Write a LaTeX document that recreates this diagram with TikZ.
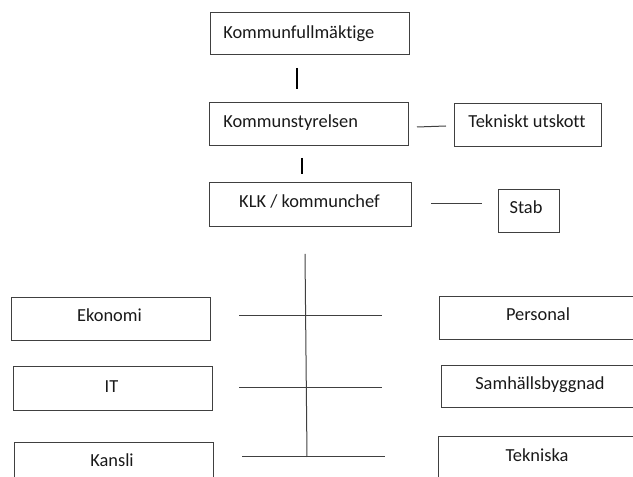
\documentclass[tikz,border=0pt]{standalone}
\usepackage{fontspec}
\setmainfont{Carlito}[Ligatures={NoCommon}]
\begin{document}
\begin{tikzpicture}[x=0.75pt,y=-0.75pt,
  box/.style={draw=black!75, line width=0.75pt, rectangle, inner sep=0pt},
  txt/.style={inner sep=0pt, font=\fontsize{13.8}{16}\selectfont, anchor=base, text=black!90},
  ln/.style={draw=black!75, line width=0.75pt},
  tick/.style={draw=black, line width=1.1pt}]
\useasboundingbox (0,0) rectangle (633,477);
\clip (0,0) rectangle (633,477);
% boxes
\node[box, minimum width=149.25pt, minimum height=31.5pt] (kf) at (309.75,34) {};
\node[box, minimum width=149.25pt, minimum height=32.25pt] (ks) at (309,124.5) {};
\node[box, minimum width=110.25pt, minimum height=32.25pt] (tu) at (527.5,125.5) {};
\node[box, minimum width=151.5pt, minimum height=33pt] (klk) at (310,205) {};
\node[box, minimum width=45.75pt, minimum height=32.25pt] (stab) at (528.5,211.5) {};
\node[box, minimum width=149.25pt, minimum height=32.25pt] (ek) at (110.5,319.5) {};
\node[box, minimum width=149.25pt, minimum height=33pt] (it) at (112.5,389) {};
\node[box, minimum width=149.25pt, minimum height=33pt] (ka) at (113.5,465) {};
\node[box, minimum width=150pt, minimum height=32.25pt] (pe) at (539.5,318.5) {};
\node[box, minimum width=150pt, minimum height=31.5pt] (sa) at (541,387) {};
\node[box, minimum width=150pt, minimum height=33pt] (te) at (538,459) {};
% texts
\node[txt, anchor=base west] (tkf) at (223,38.5) {Kommunfullmäktige};
\node[txt, anchor=base west] (tks) at (223,128) {Kommunstyrelsen};
\node[txt] (ttu) at (527,128) {Tekniskt utskott};
\node[txt] (tklk) at (309.5,208) {KLK / kommunchef};
\node[txt] (tstab) at (526,214) {Stab};
\node[txt] (tek) at (109.5,322) {Ekonomi};
\node[txt] (tit) at (111.5,393) {IT};
\node[txt] (tka) at (112,467) {Kansli};
\node[txt] (tpe) at (538,321) {Personal};
\node[txt] (tsa) at (540,390) {Samhällsbyggnad};
\node[txt] (tte) at (537,462) {Tekniska};
% connector end points
\coordinate (v1a) at (297,68);
\coordinate (v1b) at (297,89);
\coordinate (h1a) at (417,127);
\coordinate (h1b) at (446,126);
\coordinate (v2a) at (302,158);
\coordinate (v2b) at (302,174);
\coordinate (h2a) at (431,204);
\coordinate (h2b) at (482,204);
\coordinate (ta) at (305,254);
\coordinate (tb) at (307,457);
\coordinate (r1a) at (239,316);
\coordinate (r1b) at (382,316);
\coordinate (r2a) at (239,388);
\coordinate (r2b) at (382,388);
\coordinate (r3a) at (242,457);
\coordinate (r3b) at (385,457);
% connectors
\draw[tick] (v1a) -- (v1b);
\draw[ln] (h1a) -- (h1b);
\draw[tick] (v2a) -- (v2b);
\draw[ln] (h2a) -- (h2b);
\draw[ln] (ta) -- (tb);
\draw[ln] (r1a) -- (r1b);
\draw[ln] (r2a) -- (r2b);
\draw[ln] (r3a) -- (r3b);
\end{tikzpicture}
\end{document}
